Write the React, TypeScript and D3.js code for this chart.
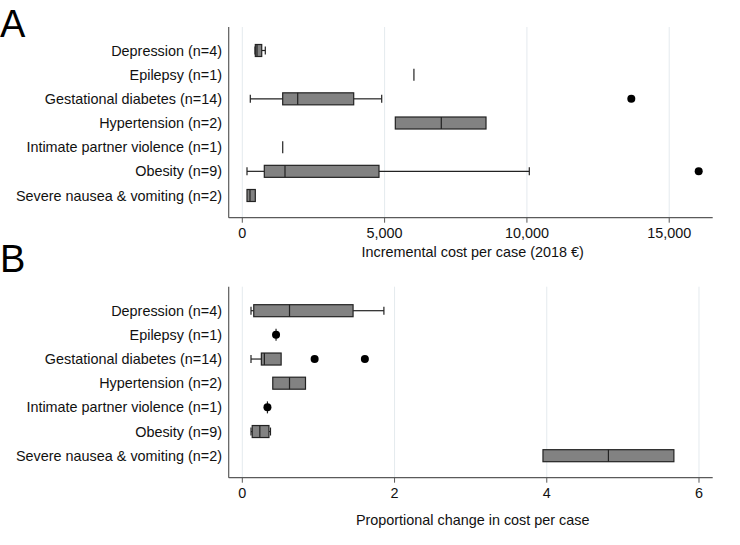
import React from "react";
import * as d3 from "d3";

const categories = [
  "Depression (n=4)",
  "Epilepsy (n=1)",
  "Gestational diabetes (n=14)",
  "Hypertension (n=2)",
  "Intimate partner violence (n=1)",
  "Obesity (n=9)",
  "Severe nausea & vomiting (n=2)",
];

// Panel A: incremental cost per case (2018 €)
const costLow = [446, 6030, 281, 5376, 1420, 165, 165];
const costQ1 = [457, 6030, 1419, 5376, 1420, 773, 165];
const costMedian = [516, 6030, 1946, 6992, 1420, 1500, 270];
const costQ3 = [682, 6030, 3914, 8563, 1420, 4803, 457];
const costHigh = [808, 6030, 4898, 8563, 1420, 10084, 457];
const costOutliers: number[][] = [[], [], [13668], [], [], [16036], []];
const costTicks = [0, 5000, 10000, 15000];

// Panel B: proportional change in cost per case
const propLow = [0.114, 0.443, 0.114, 0.4, 0.33, 0.114, 3.95];
const propQ1 = [0.15, 0.443, 0.25, 0.4, 0.33, 0.13, 3.95];
const propMedian = [0.62, 0.443, 0.29, 0.62, 0.33, 0.23, 4.81];
const propQ3 = [1.455, 0.443, 0.51, 0.83, 0.33, 0.35, 5.67];
const propHigh = [1.86, 0.443, 0.51, 0.83, 0.33, 0.37, 5.67];
const propOutliers: number[][] = [[], [0.443], [0.95, 1.61], [], [0.33], [], []];
const propTicks = [0, 2, 4, 6];

const FONT = "'Liberation Sans', Arial, Helvetica, sans-serif";
const FS = 14.4;

type PanelProps = {
  label: string;
  labelY: number;
  top: number;
  bottom: number;
  rowFirst: number;
  rowLast: number;
  domain: [number, number];
  low: number[];
  q1: number[];
  med: number[];
  q3: number[];
  high: number[];
  outliers: number[][];
  ticks: number[];
  tickFormat: (v: number) => string;
  title: string;
  titleY: number;
};

const LEFT = 228.7;
const RIGHT = 712.7;

function Panel(p: PanelProps) {
  const x = d3.scaleLinear().domain(p.domain).range([LEFT, RIGHT]);
  const y = d3.scalePoint<string>().domain(categories).range([p.rowFirst, p.rowLast]);
  const boxH = 12;
  const capH = 8;
  const axisColor = "#5a5a5a";
  return (
    <g>
      <text x={0} y={p.labelY} fontSize={38} fontFamily={FONT} fill="#000">
        {p.label}
      </text>
      {p.ticks.map((t) => (
        <line key={"g" + t} x1={x(t)} x2={x(t)} y1={p.top} y2={p.bottom} stroke="#e4eaee" strokeWidth={1} />
      ))}
      <line x1={LEFT} x2={LEFT} y1={p.top} y2={p.bottom} stroke={axisColor} strokeWidth={1.2} />
      <line x1={LEFT} x2={RIGHT} y1={p.bottom} y2={p.bottom} stroke={axisColor} strokeWidth={1.2} />
      {p.ticks.map((t) => (
        <g key={"t" + t}>
          <line x1={x(t)} x2={x(t)} y1={p.bottom} y2={p.bottom + 5} stroke={axisColor} strokeWidth={1} />
          <text x={x(t)} y={p.bottom + 20} textAnchor="middle" fontSize={FS} fontFamily={FONT} fill="#111">
            {p.tickFormat(t)}
          </text>
        </g>
      ))}
      <text x={(LEFT + RIGHT) / 2 + 2} y={p.titleY} textAnchor="middle" fontSize={FS} fontFamily={FONT} fill="#111">
        {p.title}
      </text>
      {categories.map((c, i) => {
        const cy = y(c)!;
        return (
          <g key={c}>
            <text x={222} y={cy + 5} textAnchor="end" fontSize={FS} fontFamily={FONT} fill="#111">
              {c}
            </text>
            {p.low[i] < p.q1[i] && (
              <g>
                <line x1={x(p.low[i])} x2={x(p.q1[i])} y1={cy} y2={cy} stroke="#222" strokeWidth={1.2} />
                <line x1={x(p.low[i])} x2={x(p.low[i])} y1={cy - capH / 2} y2={cy + capH / 2} stroke="#222" strokeWidth={1.2} />
              </g>
            )}
            {p.high[i] > p.q3[i] && (
              <g>
                <line x1={x(p.q3[i])} x2={x(p.high[i])} y1={cy} y2={cy} stroke="#222" strokeWidth={1.2} />
                <line x1={x(p.high[i])} x2={x(p.high[i])} y1={cy - capH / 2} y2={cy + capH / 2} stroke="#222" strokeWidth={1.2} />
              </g>
            )}
            <rect
              x={x(p.q1[i])}
              y={cy - boxH / 2}
              width={Math.max(0, x(p.q3[i]) - x(p.q1[i]))}
              height={boxH}
              fill="#828282"
              stroke="#222"
              strokeWidth={1.2}
            />
            <line x1={x(p.med[i])} x2={x(p.med[i])} y1={cy - boxH / 2} y2={cy + boxH / 2} stroke="#222" strokeWidth={1.2} />
            {p.outliers[i].map((o, j) => (
              <circle key={j} cx={x(o)} cy={cy} r={4} fill="#000" />
            ))}
          </g>
        );
      })}
    </g>
  );
}

export default function App() {
  return (
    <svg
      width={740}
      height={545}
      style={{ position: "absolute", left: 0, top: 0, background: "#fff" }}
    >
      <rect x={0} y={0} width={740} height={545} fill="#fff" />
      <Panel
        label="A"
        labelY={37}
        top={27}
        bottom={217.7}
        rowFirst={50.5}
        rowLast={195.5}
        domain={[-478, 16528]}
        low={costLow}
        q1={costQ1}
        med={costMedian}
        q3={costQ3}
        high={costHigh}
        outliers={costOutliers}
        ticks={costTicks}
        tickFormat={d3.format(",")}
        title="Incremental cost per case (2018 €)"
        titleY={257}
      />
      <Panel
        label="B"
        labelY={272}
        top={286.7}
        bottom={477.7}
        rowFirst={310.7}
        rowLast={455.7}
        domain={[-0.179, 6.18]}
        low={propLow}
        q1={propQ1}
        med={propMedian}
        q3={propQ3}
        high={propHigh}
        outliers={propOutliers}
        ticks={propTicks}
        tickFormat={d3.format("d")}
        title="Proportional change in cost per case"
        titleY={525}
      />
    </svg>
  );
}
